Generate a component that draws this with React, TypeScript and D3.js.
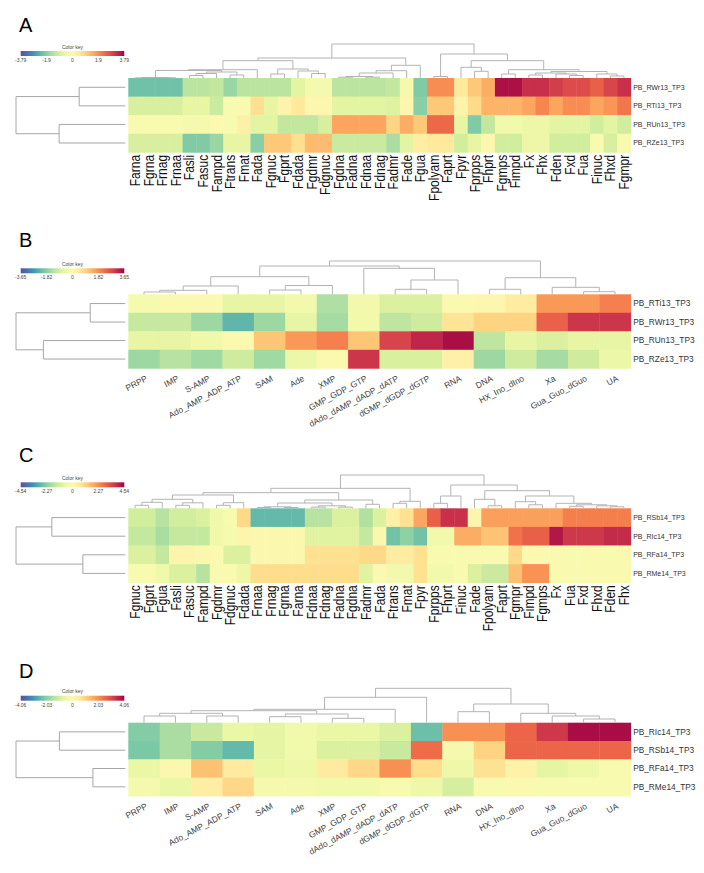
import React from 'react';
import * as d3 from 'd3';

type Tree = string | [number, Tree, Tree];

// ---------- panel A
const colsA = ['Farna', 'Fgrna', 'Frnag', 'Frnaa', 'Fasli', 'Fasuc', 'Fampd', 'Ftrans', 'Fmat', 'Fada', 'Fgnuc', 'Fgprt', 'Fdada', 'Fgdmr', 'Fdgnuc', 'Fgdna', 'Fadna', 'Fdnaa', 'Fdnag', 'Fadmr', 'Fade', 'Fgua', 'Fpolyam', 'Faprt', 'Fpyr', 'Fprpps', 'Fhprt', 'Fgmps', 'Fimpd', 'Fx', 'Fhx', 'Fden', 'Fxd', 'Fua', 'Finuc', 'Fhxd', 'Fgmpr'];
const rowsA = ['PB_RWr13_TP3', 'PB_RTi13_TP3', 'PB_RUn13_TP3', 'PB_RZe13_TP3'];
const valsA = [
  [-2.2, -2.2, -2.2, -2.2, -1.3, -1.3, -1.2, -1.7, -1.3, -1.3, -1.3, -1.3, -0.7, -0.3, -0.3, -1.3, -1.3, -1.3, -1.3, -1.2, -0.3, -2.0, 1.9, 1.9, 0.5, 1.1, 1.5, 3.6, 3.6, 3.2, 3.2, 3.0, 2.8, 2.8, 2.5, 2.9, 3.2],
  [-0.9, -0.9, -0.9, -0.9, -0.6, -0.6, -1.1, -0.2, -0.2, 0.7, -0.6, 0.2, 0.5, 0.1, 0.1, -0.7, -0.7, -0.7, -0.7, -0.8, 0.1, -1.9, 1.1, 1.1, 0.2, 0.8, 1.4, 1.4, 1.4, 1.6, 2.0, 1.6, 1.9, 1.9, 1.6, 1.8, 2.2],
  [-0.2, -0.2, -0.2, -0.2, -0.3, -0.3, 0.0, -0.2, 0.3, -0.7, -0.7, -1.2, -1.2, -1.2, -0.9, 1.6, 1.6, 1.6, 1.6, 0.9, 1.5, 1.1, 2.4, 2.4, -0.6, -2.0, -1.2, -0.4, -0.4, -0.5, -0.5, -0.7, -0.7, -0.7, -1.0, -0.7, -1.0],
  [-0.9, -0.9, -0.9, -0.9, -2.0, -2.0, -1.7, -0.6, -0.6, -1.9, 1.1, 1.1, 0.7, 1.3, 1.3, -1.1, -1.1, -1.1, -1.1, -1.5, -0.7, 0.4, 0.5, 0.5, -1.0, -0.6, 0.1, -1.0, -1.0, -0.5, -0.5, -1.0, -1.0, -1.0, -0.2, -0.9, -0.2],
];
const colTreeA: Tree = [34,
  [20,
    [17.3,
      [8.3,
        [7.5,
          [0.5, [0.2, 'Farna', 'Fgrna'], [0.2, 'Frnag', 'Frnaa']],
          [6, [4.5, [2.5, 'Fasli', 'Fasuc'], 'Fampd'], [3, 'Ftrans', 'Fmat']]],
        'Fada'],
      [9, [4, 'Fgnuc', 'Fgprt'], [7, 'Fdada', [4.5, 'Fgdmr', 'Fdgnuc']]]],
    [12.7, [7.3, [5, [1.5, [0.8, 'Fgdna', 'Fadna'], [0.8, 'Fdnaa', 'Fdnag']], 'Fadmr'], 'Fade'], 'Fgua']],
  [24,
    [1.5, 'Fpolyam', 'Faprt'],
    [17.3,
      [10.7, 'Fpyr', [6.7, 'Fprpps', 'Fhprt']],
      [8.3,
        [4, 'Fgmps', 'Fimpd'],
        [6.5,
          [5, [3, 'Fx', 'Fhx'], [4, 'Fden', [2.5, 'Fxd', 'Fua']]],
          [4, 'Finuc', [2, 'Fhxd', 'Fgmpr']]]]]]];
const rowTreeA: Tree = [109, [46, 'PB_RWr13_TP3', 'PB_RTi13_TP3'], [66, 'PB_RUn13_TP3', 'PB_RZe13_TP3']];
const keyMaxA = 3.79;
const keyTicksA = ['-3.79', '-1.9', '0', '1.9', '3.79'];

// ---------- panel B
const colsB = ['PRPP', 'IMP', 'S-AMP', 'Ado_AMP_ADP_ATP', 'SAM', 'Ade', 'XMP', 'GMP_GDP_GTP', 'dAdo_dAMP_dADP_dATP', 'dGMP_dGDP_dGTP', 'RNA', 'DNA', 'HX_Ino_dIno', 'Xa', 'Gua_Guo_dGuo', 'UA'];
const rowsB = ['PB_RTi13_TP3', 'PB_RWr13_TP3', 'PB_RUn13_TP3', 'PB_RZe13_TP3'];
const valsB = [
  [-0.2, 0.0, 0.0, -0.6, -0.6, -0.3, -1.4, -0.3, -0.8, -0.8, 0.0, 0.1, 0.4, 1.7, 1.7, 2.0],
  [-1.1, -1.1, -1.6, -2.3, -1.6, -0.6, -1.5, -0.35, -1.2, -1.0, 0.6, 0.9, 0.9, 2.4, 3.0, 3.0],
  [-0.6, -0.6, -0.4, -0.1, 1.1, 1.7, 2.0, 1.1, 2.8, 3.2, 3.5, -1.2, -0.6, -0.8, -0.6, -0.6],
  [-1.6, -1.3, -1.55, -1.0, -1.55, -0.5, 0.0, 3.0, -0.85, -0.85, 0.3, -1.6, -1.0, -1.5, -1.0, -0.5],
];
const colTreeB: Tree = [33.3,
  [28.3,
    [17.6,
      [8.3, [4, [2.3, 'PRPP', 'IMP'], 'S-AMP'], 'Ado_AMP_ADP_ATP'],
      [8.8, [4.3, 'SAM', 'Ade'], 'XMP']],
    [26, 'GMP_GDP_GTP', [14.3, [5, 'dAdo_dAMP_dADP_dATP', 'dGMP_dGDP_dGTP'], 'RNA']]],
  [16.6, [5, 'DNA', 'HX_Ino_dIno'], [7, 'Xa', [2.6, 'Gua_Guo_dGuo', 'UA']]]];
const rowTreeB: Tree = [109, [35, 'PB_RTi13_TP3', 'PB_RWr13_TP3'], [81.7, 'PB_RUn13_TP3', 'PB_RZe13_TP3']];
const keyMaxB = 3.65;
const keyTicksB = ['-3.65', '-1.82', '0', '1.82', '3.65'];

// ---------- panel C
const colsC = ['Fgnuc', 'Fgprt', 'Fgua', 'Fasli', 'Fasuc', 'Fampd', 'Fgdmr', 'Fdgnuc', 'Fdada', 'Frnaa', 'Frnag', 'Fgrna', 'Farna', 'Fdnaa', 'Fdnag', 'Fadna', 'Fgdna', 'Fadmr', 'Fada', 'Ftrans', 'Fmat', 'Fpyr', 'Fprpps', 'Fhprt', 'Finuc', 'Fade', 'Fpolyam', 'Faprt', 'Fgmpr', 'Fimpd', 'Fgmps', 'Fx', 'Fua', 'Fxd', 'Fhxd', 'Fden', 'Fhx'];
const rowsC = ['PB_RSb14_TP3', 'PB_RIc14_TP3', 'PB_RFa14_TP3', 'PB_RMe14_TP3'];
const valsC = [
  [-1.2, -1.2, -1.6, -1.2, -1.2, -1.0, -0.5, -0.2, 1.0, -2.8, -2.8, -2.8, -2.8, -1.6, -1.6, -1.0, -1.0, -1.7, -1.0, 0.4, 0.8, 1.9, 3.0, 3.8, 3.8, 0.2, 2.0, 2.0, 2.0, 2.0, 2.0, 2.0, 2.5, 2.5, 2.5, 2.5, 2.5],
  [-1.4, -1.4, -1.8, -1.4, -1.4, -1.4, -0.5, -0.3, 0.2, 0.1, 0.1, 0.1, 0.1, -0.9, -0.9, -0.9, -0.9, -1.4, 0.1, -2.6, -2.2, -2.6, -0.4, -0.4, 1.8, 1.8, 1.4, 1.4, 2.7, 3.0, 3.0, 4.2, 3.7, 3.7, 3.7, 3.9, 3.9],
  [-1.0, -1.0, -1.4, 0.2, 0.2, 0.1, 0.0, -1.0, -1.0, 0.1, 0.1, 0.1, 0.1, 0.8, 0.8, 0.8, 0.8, 1.0, 1.0, 0.5, 0.5, 0.8, -0.2, -0.2, -0.2, -0.2, -0.2, -0.2, 1.0, 0.0, 0.0, 0.0, -0.2, -0.2, 0.0, -0.2, 0.0],
  [-0.2, -0.2, -0.5, -1.0, -1.0, -1.6, -0.1, -0.1, -0.6, 0.9, 0.9, 0.9, 0.9, 0.9, 0.9, 0.9, 0.9, -0.9, 0.0, -0.4, -0.4, 0.8, -0.4, -0.4, -0.2, -1.0, -1.3, -1.3, 1.5, 2.2, 2.2, -0.1, -0.1, -0.1, -0.1, -0.1, -0.1],
];
const colTreeC: Tree = [33.3,
  [20,
    [15.6,
      [13.3,
        [9, [6, [3, 'Fgnuc', 'Fgprt'], 'Fgua'], [5.5, [3, 'Fasli', 'Fasuc'], 'Fampd']],
        [5.6, [3, 'Fgdmr', 'Fdgnuc'], 'Fdada']],
      [8.3,
        [5.3, [1.5, [0.8, 'Frnaa', 'Frnag'], [0.8, 'Fgrna', 'Farna']], [2.5, [1.2, 'Fdnaa', 'Fdnag'], [1.2, 'Fadna', 'Fgdna']]],
        [4, 'Fadmr', 'Fada']]],
    [7, [5, 'Ftrans', 'Fmat'], 'Fpyr']],
  [23.3,
    [12.3, [5, 'Fprpps', 'Fhprt'], 'Finuc'],
    [17.6,
      [9, 'Fade', [2.5, 'Fpolyam', 'Faprt']],
      [12.3,
        [6.6, 'Fgmpr', [3.5, 'Fimpd', 'Fgmps']],
        [5, 'Fx', [3.5, [2, 'Fua', 'Fxd'], [2.5, 'Fhxd', [1.5, 'Fden', 'Fhx']]]]]]]];
const rowTreeC: Tree = [109, [73.3, 'PB_RSb14_TP3', 'PB_RIc14_TP3'], [42.3, 'PB_RFa14_TP3', 'PB_RMe14_TP3']];
const keyMaxC = 4.54;
const keyTicksC = ['-4.54', '-2.27', '0', '2.27', '4.54'];

// ---------- panel D
const colsD = colsB;
const rowsD = ['PB_RIc14_TP3', 'PB_RSb14_TP3', 'PB_RFa14_TP3', 'PB_RMe14_TP3'];
const valsD = [
  [-2.1, -1.6, -1.2, -0.6, -0.7, -0.4, -0.6, -0.6, -0.9, -2.4, 2.0, 2.0, 2.6, 3.3, 3.9, 3.9],
  [-2.2, -1.6, -2.1, -2.5, -0.7, -0.4, -0.9, -0.9, -1.2, 2.5, -0.3, 1.0, 2.6, 2.6, 2.6, 2.6],
  [-0.6, 0.1, 1.3, 0.5, -0.6, -0.5, 0.5, 0.9, 2.0, 0.8, -0.5, 0.7, 0.3, -0.7, -0.5, -0.2],
  [-0.3, -0.6, 0.4, 0.9, -0.3, -0.3, -0.4, -0.4, -0.2, -0.5, -1.0, -0.2, 0.0, -0.2, -0.2, -0.2],
];
const colTreeD: Tree = [34.4,
  [25.4,
    [13.4,
      [12,
        [9.4, [6.7, 'PRPP', 'IMP'], [6.7, 'S-AMP', 'Ado_AMP_ADP_ATP']],
        [8.7, [6, 'SAM', 'Ade'], [4.4, 'XMP', 'GMP_GDP_GTP']]],
      'dAdo_dAMP_dADP_dATP'],
    'dGMP_dGDP_dGTP'],
  [18.7, [11, 'RNA', 'DNA'], [9.4, 'HX_Ino_dIno', [6.7, 'Xa', [3.7, 'Gua_Guo_dGuo', 'UA']]]]];
const rowTreeD: Tree = [109, [65.7, 'PB_RIc14_TP3', 'PB_RSb14_TP3'], [32.3, 'PB_RFa14_TP3', 'PB_RMe14_TP3']];
const keyMaxD = 4.06;
const keyTicksD = ['-4.06', '-2.03', '0', '2.03', '4.06'];

const FONT = 'Liberation Sans, Arial, sans-serif';
const heatLeft = 128.3;
const heatRight = 630.7;

function layoutTree(tree: Tree, leafPos: (name: string) => number) {
  const root: any = d3.hierarchy<Tree>(tree, d => (typeof d === 'string' ? null : [d[1], d[2]]));
  root.eachAfter((n: any) => {
    if (!n.children) {
      n.pos = leafPos(n.data);
      n.h = 0;
    } else {
      n.pos = (n.children[0].pos + n.children[1].pos) / 2;
      n.h = n.data[0];
    }
  });
  return root;
}

function Dendro({ tree, leafPos, hScale, horizontal, stroke }: any) {
  const root = layoutTree(tree, leafPos);
  const paths: string[] = [];
  root.each((n: any) => {
    if (!n.children) return;
    const [a, b] = n.children;
    if (horizontal) paths.push(`M${hScale(a.h)},${a.pos}H${hScale(n.h)}V${b.pos}H${hScale(b.h)}`);
    else paths.push(`M${a.pos},${hScale(a.h)}V${hScale(n.h)}H${b.pos}V${hScale(b.h)}`);
  });
  return (
    <g>
      {paths.map((d, i) => (
        <path key={i} d={d} fill="none" stroke={stroke} strokeWidth={1} />
      ))}
    </g>
  );
}

function Panel(p: any) {
  const { id, letter, letterY, keyTop, heatTop, heatH, cols, rows, vals, colTree, rowTree, keyMax, keyTicks, angled, rowFont } = p;
  const x = d3.scaleBand<string>().domain(cols).range([heatLeft, heatRight]);
  const y = d3.scaleBand<string>().domain(rows).range([heatTop, heatTop + heatH]);
  const color = d3.scaleSequential((t: number) => d3.interpolateSpectral(1 - t)).domain([-keyMax, keyMax]);
  const colRootH = (colTree as any)[0];
  const colH = d3.scaleLinear().domain([0, colRootH]).range([heatTop, heatTop - colRootH]);
  const rowRootH = (rowTree as any)[0];
  const rowH = d3.scaleLinear().domain([0, rowRootH]).range([heatLeft - 3, 16]);
  const keyX = d3.scaleLinear().domain([-keyMax, keyMax]).range([20.7, 124.3]);
  const keyVals = d3.range(5).map(i => -keyMax + (i * keyMax) / 2);
  const bottom = heatTop + heatH;
  const gradId = `grad${id}`;

  return (
    <g fontFamily={FONT}>
      <text x={19} y={letterY} fontSize={20} fill="#000">{letter}</text>
      <defs>
        <linearGradient id={gradId} x1="0" x2="1" y1="0" y2="0">
          {d3.range(0, 1.0001, 0.05).map(t => (
            <stop key={t} offset={t} stopColor={color(-keyMax + t * 2 * keyMax)} />
          ))}
        </linearGradient>
      </defs>
      <text x={keyX(0)} y={keyTop - 2.5} fontSize={5} textAnchor="middle" fill="#444">Color key</text>
      <rect x={keyX(-keyMax)} y={keyTop} width={keyX(keyMax) - keyX(-keyMax)} height={5} fill={`url(#${gradId})`} />
      {keyVals.map((v, i) => (
        <text key={i} x={keyX(v)} y={keyTop + 11} fontSize={5} textAnchor="middle" fill="#444">{keyTicks[i]}</text>
      ))}

      {rows.map((r: string, ri: number) =>
        cols.map((c: string, ci: number) => (
          <rect key={r + c} x={x(c)} y={y(r)} width={x.bandwidth() + 0.4} height={y.bandwidth() + 0.4} fill={color(vals[ri][ci])} />
        ))
      )}

      <Dendro tree={colTree} leafPos={(n: string) => (x(n) as number) + x.bandwidth() / 2} hScale={colH} stroke="#b3b3b3" />
      <Dendro tree={rowTree} leafPos={(n: string) => (y(n) as number) + y.bandwidth() / 2} hScale={rowH} horizontal stroke="#a6a6a6" />

      {rows.map((r: string) => (
        <text key={r} x={heatRight + 2.5} y={(y(r) as number) + y.bandwidth() / 2} dy="0.35em" fontSize={rowFont} fill="#333">{r}</text>
      ))}

      {cols.map((c: string) => {
        const cx = (x(c) as number) + x.bandwidth() / 2;
        return angled ? (
          <text key={c} transform={`translate(${cx + 4},${bottom + 12}) rotate(-28)`} textAnchor="end" fontSize={8.5} fill="#444">{c}</text>
        ) : (
          <text key={c} transform={`translate(${cx + 5},${bottom + 2.5}) rotate(-90) scale(0.86,1)`} textAnchor="end" fontSize={14} fill="#111">{c}</text>
        );
      })}
    </g>
  );
}

export default function App() {
  return (
    <svg width={704} height={873} style={{ position: 'absolute', left: 0, top: 0, background: '#fff' }}>
      <rect width={704} height={873} fill="#fff" />
      <Panel id="A" letter="A" letterY={31.5} keyTop={51} heatTop={78} heatH={74.3} cols={colsA} rows={rowsA} vals={valsA} colTree={colTreeA} rowTree={rowTreeA} keyMax={keyMaxA} keyTicks={keyTicksA} rowFont={7} />
      <Panel id="B" letter="B" letterY={246.5} keyTop={268.3} heatTop={294.3} heatH={74} cols={colsB} rows={rowsB} vals={valsB} colTree={colTreeB} rowTree={rowTreeB} keyMax={keyMaxB} keyTicks={keyTicksB} rowFont={8.3} angled />
      <Panel id="C" letter="C" letterY={462.3} keyTop={482.3} heatTop={508.3} heatH={74.4} cols={colsC} rows={rowsC} vals={valsC} colTree={colTreeC} rowTree={rowTreeC} keyMax={keyMaxC} keyTicks={keyTicksC} rowFont={7} />
      <Panel id="D" letter="D" letterY={678.3} keyTop={695.7} heatTop={722.7} heatH={73.3} cols={colsD} rows={rowsD} vals={valsD} colTree={colTreeD} rowTree={rowTreeD} keyMax={keyMaxD} keyTicks={keyTicksD} rowFont={8.3} angled />
    </svg>
  );
}
